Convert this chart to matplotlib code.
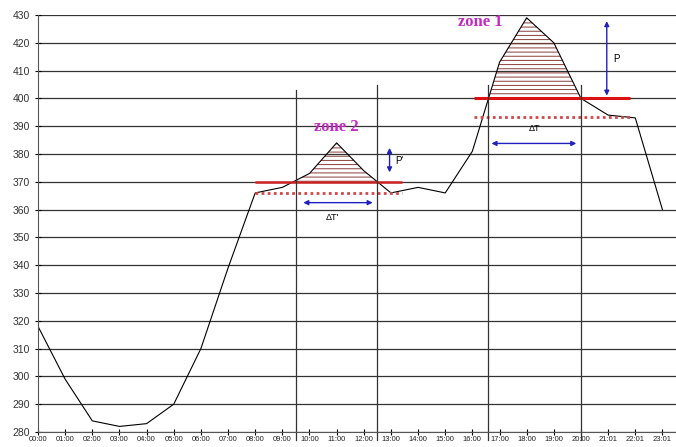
import numpy as np
import matplotlib
matplotlib.use('Agg')
import matplotlib.pyplot as plt

# hourly load curve
hours = np.arange(24)
hour_labels = ['00:00', '01:00', '02:00', '03:00', '04:00', '05:00', '06:00', '07:00',
               '08:00', '09:00', '10:00', '11:00', '12:00', '13:00', '14:00', '15:00',
               '16:00', '17:00', '18:00', '19:00', '20:00', '21:01', '22:01', '23:01']
load = np.array([318, 299, 284, 282, 283, 290, 310, 339, 366, 368, 373, 384,
                 374, 366, 368, 366, 381, 413, 429, 420, 400, 394, 393, 360])

# thresholds for the two zones
thr_zone1 = 400
thr_zone2 = 370
dotted_zone1 = 393.2
dotted_zone2 = 366

plt.rcParams['hatch.linewidth'] = 0.7
plt.rcParams['font.family'] = ['Liberation Sans', 'DejaVu Sans']

fig = plt.figure(figsize=(6.76, 4.47), dpi=100)
ax = fig.add_axes([0.0562, 0.0336, 0.9438, 0.9328])

ax.set_ylim(280, 430)
ax.set_xlim(0, 23.5)
ax.set_yticks(np.arange(280, 431, 10))
ax.set_xticks(hours)
ax.set_xticklabels(hour_labels, fontsize=5.5, color='#222222')
ax.tick_params(axis='y', labelsize=7.5, labelcolor='#333333', direction='inout', length=5, width=0.8)
ax.tick_params(axis='x', direction='inout', length=4, width=0.8, pad=1)
for s in ['top', 'right']:
    ax.spines[s].set_visible(False)
ax.spines['left'].set_color('#555555')
ax.spines['bottom'].set_color('#555555')
ax.yaxis.grid(True, color='#333333', lw=0.9)
ax.set_axisbelow(True)

# hatched peaks above thresholds
z1 = (load > thr_zone1) & (hours >= 16)
z2 = (load > thr_zone2) & (hours >= 9) & (hours <= 13)
ax.fill_between(hours, load, thr_zone1, where=z1, interpolate=True,
                facecolor='none', edgecolor='#8b3a3a', hatch='----', lw=0)
ax.fill_between(hours, load, thr_zone2, where=z2, interpolate=True,
                facecolor='none', edgecolor='#8b3a3a', hatch='----', lw=0)

ax.plot(hours, load, color='black', lw=0.8)

# threshold lines
ax.hlines(thr_zone1, 16.05, 21.8, color='#dd1111', lw=2.2)
ax.hlines(thr_zone2, 8.0, 13.4, color='#cc2222', lw=1.8)
ax.hlines(dotted_zone1, 16.05, 21.9, color='#d04848', lw=2, linestyles=(0, (1, 1.2)))
ax.hlines(dotted_zone2, 8.0, 13.4, color='#d04848', lw=2, linestyles=(0, (1, 1.2)))

# vertical zone boundaries
for xv, ytop in [(9.52, 403), (12.47, 405), (16.57, 405), (20.0, 405)]:
    ax.plot([xv, xv], [277, ytop], color='#333333', lw=0.9, clip_on=False)

arrow_kw = dict(arrowstyle='<|-|>', color='#2020c0', lw=1, mutation_scale=7)
ax.annotate('', xy=(20.95, 428.8), xytext=(20.95, 400), arrowprops=arrow_kw)
ax.annotate('', xy=(12.95, 383.2), xytext=(12.95, 372.4), arrowprops=arrow_kw)
ax.annotate('', xy=(16.6, 383.8), xytext=(19.93, 383.8), arrowprops=arrow_kw)
ax.annotate('', xy=(9.67, 362.5), xytext=(12.43, 362.5), arrowprops=arrow_kw)

ax.text(21.2, 414, 'P', fontsize=7, ha='left', va='center')
ax.text(13.15, 377.5, "P'", fontsize=7, ha='left', va='center')
ax.text(18.3, 389.3, '\u0394T', fontsize=6.5, ha='center', va='center')
ax.text(10.85, 357, "\u0394T'", fontsize=6.5, ha='center', va='center')

ax.text(16.3, 427.5, 'zone 1', fontsize=12, color='#c428c4', family='Liberation Serif',
        ha='center', va='center', fontweight='bold')
ax.text(11.0, 389.8, 'zone 2', fontsize=12, color='#c428c4', family='Liberation Serif',
        ha='center', va='center', fontweight='bold')

fig.savefig('out.png', dpi=100)
